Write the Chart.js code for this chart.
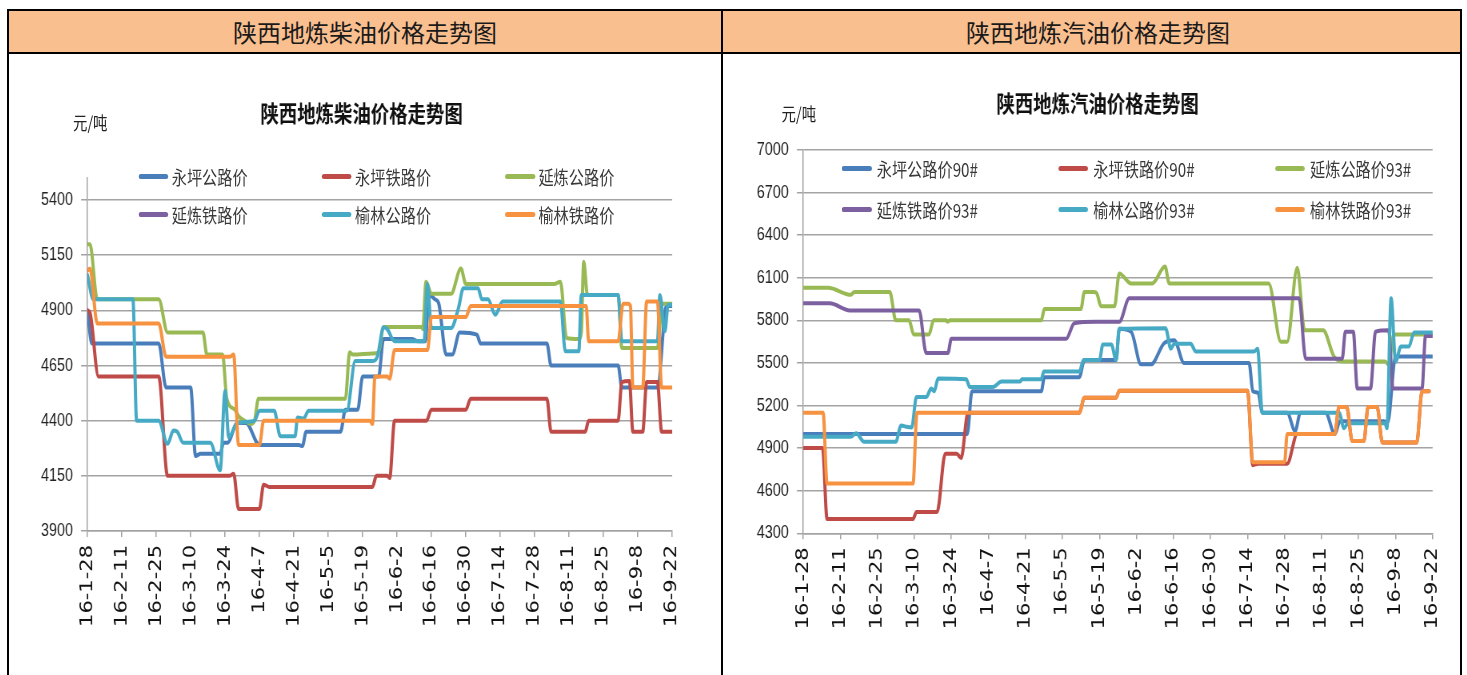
<!DOCTYPE html>
<html>
<head>
<meta charset="utf-8">
<script src="https://cdn.jsdelivr.net/npm/chart.js@4.4.1/dist/chart.umd.min.js"></script>
<style>
html,body{margin:0;padding:0;background:#fff;width:1467px;height:675px;overflow:hidden;position:relative;}
.hdr{position:absolute;top:11px;height:41px;background:#FABF8F;display:flex;align-items:center;justify-content:center;box-sizing:border-box;
  font-family:"Noto Sans CJK SC","Noto Sans",sans-serif;font-size:24px;color:#1a1a1a;}
.ln{position:absolute;background:#000;z-index:5;}
.squash{position:absolute;top:55px;height:620px;transform:scaleX(0.8);transform-origin:0 0;}
.squash canvas{position:absolute;left:0;top:0;}
.unit{position:absolute;font-family:"Noto Sans CJK SC",sans-serif;font-size:18px;color:#222;line-height:24px;white-space:nowrap;}
.lg{position:absolute;height:24px;display:flex;align-items:center;white-space:nowrap;
  font-family:"Noto Sans CJK SC",sans-serif;font-size:19px;color:#3a3a3a;}
.lg .sw{display:inline-block;height:5px;border-radius:3px;}
</style>
</head>
<body>
<div class="hdr" style="left:9px;width:712px;">陕西地炼柴油价格走势图</div>
<div class="hdr" style="left:723px;width:737px;padding-left:13px;">陕西地炼汽油价格走势图</div>

<div class="squash" id="leftBox" style="left:9px;width:890px;">
  <canvas id="dieselChart" width="890" height="620"></canvas>
  <div class="unit" style="left:80px;top:55px;">元/吨</div>
</div>
<div class="squash" id="rightBox" style="left:724px;width:919px;">
  <canvas id="gasolineChart" width="919" height="620"></canvas>
  <div class="unit" style="left:72px;top:46px;">元/吨</div>
</div>

<div class="ln" style="left:7px;top:9px;width:1455px;height:2px;"></div>
<div class="ln" style="left:7px;top:52px;width:1455px;height:2px;"></div>
<div class="ln" style="left:7px;top:9px;width:2px;height:680px;"></div>
<div class="ln" style="left:721px;top:9px;width:2px;height:680px;"></div>
<div class="ln" style="left:1460px;top:9px;width:2px;height:680px;"></div>

<script>
// ---------- data ----------
const dateLabels = ['16-1-28','16-2-11','16-2-25','16-3-10','16-3-24','16-4-7','16-4-21','16-5-5','16-5-19',
  '16-6-2','16-6-16','16-6-30','16-7-14','16-7-28','16-8-11','16-8-25','16-9-8','16-9-22'];
const tickStepDays = 14;
const dieselYTicks = [3900,4150,4400,4650,4900,5150,5400];
const gasolineYTicks = [4300,4600,4900,5200,5500,5800,6100,6400,6700,7000];
const dieselTitle = '陕西地炼柴油价格走势图';
const gasolineTitle = '陕西地炼汽油价格走势图';
const dieselNames = ['永坪公路价','永坪铁路价','延炼公路价','延炼铁路价','榆林公路价','榆林铁路价'];
const gasolineNames = ['永坪公路价90#','永坪铁路价90#','延炼公路价93#','延炼铁路价93#','榆林公路价93#','榆林铁路价93#'];

// diesel: [days after 16-1-28, price]
const dYongpingRoad = [[0,4900],[1.8,4750],[29,4750],[32,4550],[42,4550],[44,4240],[46,4250],[54,4250],[55.4,4300],[57,4300],
  [61,4390],[64.5,4390],[70,4290],[86,4290],[87.5,4285],[89,4350],[103,4350],[105,4450],[110,4450],[112,4600],[118.5,4600],
  [120.5,4770],[132,4770],[134.5,4760],[137.5,4760],[139,4970],[141.5,4950],[143,4930],[146,4700],[148.5,4700],[151.5,4800],
  [158.5,4790],[160,4750],[187,4750],[188.7,4650],[216,4650],[217.5,4550],[232,4550],[235.7,4920],[238,4920]];
const dYongpingRail = [[0,4900],[1,4890],[4.5,4600],[29,4600],[32.6,4150],[58,4150],[59.5,4160],[61.5,4000],[70,4000],
  [71.7,4110],[74,4100],[116,4100],[117.6,4150],[122,4150],[123,4140],[125,4400],[138,4400],[140,4450],[154,4450],[156,4500],
  [187,4500],[188.7,4350],[202.6,4350],[204,4400],[216,4400],[217.5,4575],[220.6,4580],[222,4350],[226,4350],[227.6,4575],
  [232,4575],[233.7,4350],[238,4350]];
const dYanlianRoad = [[0,5200],[1,5200],[4,4950],[29,4950],[32.6,4800],[47,4800],[48.6,4700],[55,4700],[56.7,4500],[60,4450],
  [61.5,4420],[64,4400],[66.5,4385],[68,4400],[69.6,4500],[105,4500],[106.7,4710],[108,4700],[116,4705],[118.5,4710],
  [120.5,4825],[136,4825],[136.5,4815],[137.8,5030],[140,4975],[148,4975],[152,5090],[154,5020],[190,5020],[192.5,5030],
  [195,4775],[200,4770],[201,4800],[202,5120],[203.5,4970],[216,4970],[217.5,4730],[232,4730],[234,4930],[238,4930]];
const dYanlianRail = [];
const dYulinRoad = [[0,5060],[2.4,4950],[18.5,4950],[20,4400],[29,4400],[32.6,4295],[35,4355],[36.5,4350],[39,4300],[50,4300],
  [54,4175],[56,4535],[57.5,4325],[61,4390],[68,4400],[70,4445],[76,4445],[78.5,4330],[84.5,4330],[85.5,4415],[88,4410],
  [90,4445],[105.6,4445],[109,4670],[116,4670],[118,4690],[120.5,4823],[122,4815],[125,4760],[137,4760],[138.4,5020],
  [140,4820],[148,4820],[151,4910],[153,5000],[159,5000],[160.5,4950],[163,4950],[166,4880],[169,4940],[192.5,4940],
  [194.5,4715],[200,4715],[201,4970],[216,4970],[217.5,4760],[232,4760],[233,4970],[235,4805],[236.4,4925],[238,4925]];
const dYulinRail = [[0,5080],[1,5090],[4,4840],[29,4840],[32,4690],[58,4690],[59.5,4700],[61.5,4290],[70,4290],[71.7,4400],
  [115,4400],[116,4385],[117,4600],[122,4600],[123,4590],[125,4720],[138.4,4720],[140,4870],[154,4870],[156,4920],[203,4920],
  [204,4760],[216,4760],[218,4930],[220,4930],[221,4920],[222,4550],[226,4550],[227.6,4940],[232,4940],[233.7,4550],[238,4550]];

// gasoline: [days after 16-1-28, price]
const gYongpingRoad = [[0,5000],[62,5000],[63.8,5300],[90,5300],[91.2,5400],[104.4,5400],[106.3,5520],[118.3,5520],
  [119.5,5740],[124,5720],[127.7,5490],[131.5,5490],[136.5,5640],[140.3,5660],[144,5500],[168.6,5500],[170,5300],[172,5290],
  [173.6,5150],[183,5150],[186,5020],[188,5150],[197.5,5150],[201,5000],[203,5090],[219.5,5090],[221,5080],[224,5545],[238,5545]];
const gYongpingRail = [[0,4900],[7.3,4900],[9,4400],[41.5,4400],[42.8,4450],[50.6,4450],[53.7,4860],[58,4860],[59.7,4830],
  [62.3,5150],[104.4,5150],[106.3,5255],[118.3,5255],[119.5,5305],[168,5305],[170,4780],[172,4790],[183,4790],[186.8,5000],
  [201,5000],[202.6,5190],[205.5,5190],[207.6,4950],[212,4950],[213.6,5190],[217,5190],[219,4940],[232,4940],[234,5300],[236.7,5300]];
const gYanlianRoad = [[0,6030],[9.4,6030],[18,5980],[19.3,6000],[32.7,6000],[35,5800],[40,5800],[41.8,5700],[47.5,5700],
  [49.3,5800],[54,5800],[54.5,5790],[55.5,5800],[90,5800],[91.2,5880],[105,5880],[106.3,6000],[110,6000],[111,5990],
  [112.6,5900],[117.7,5900],[119.5,6130],[124,6060],[132,6060],[136.8,6180],[138.4,6060],[176,6060],[180.6,5650],[183,5650],
  [186.8,6170],[189.6,5730],[196.6,5730],[200.7,5545],[204.5,5510],[220,5510],[221.4,5486],[223.3,5700],[238,5700]];
const gYanlianRail = [[0,5920],[10,5920],[17.6,5870],[43.8,5870],[46.5,5570],[54.7,5570],[56,5670],[99.4,5670],[102.5,5780],
  [110.7,5790],[119.5,5790],[123.3,5955],[187.5,5955],[190,5530],[203.8,5530],[205,5720],[208,5720],[209.5,5320],[214.5,5320],
  [216.4,5720],[221.4,5730],[223,5320],[234,5320],[235.3,5690],[238,5690]];
const gYulinRoad = [[0,4980],[18,4980],[20,5005],[23,4945],[35,4945],[37,5060],[39,5050],[41,5045],[42.8,5260],[46.5,5260],
  [48.4,5320],[49.5,5300],[51,5390],[61.6,5385],[63,5330],[71.7,5330],[75,5370],[82,5370],[82.7,5385],[90,5385],[91,5440],
  [104.4,5440],[106,5520],[112,5520],[113.3,5630],[116.5,5630],[118.3,5520],[119.5,5740],[137,5745],[139,5600],[140.3,5635],
  [146.5,5635],[148.5,5580],[170.5,5580],[171.8,5600],[173.6,5150],[202.6,5150],[204.5,5040],[206,5075],[220,5075],
  [220.7,5040],[222.3,5955],[224,5510],[226,5615],[229,5615],[231,5715],[238,5715]];
const gYulinRail = [[0,5150],[7.5,5150],[9,4650],[41.5,4650],[43,5150],[104.4,5150],[106.3,5255],[118.3,5255],[119.5,5305],
  [168,5305],[170,4800],[182,4800],[183,5000],[201,5000],[202.6,5190],[205.5,5190],[207.6,4950],[212,4950],[213.6,5190],
  [217,5190],[219,4940],[232,4940],[234,5300],[236.7,5300]];

// ---------- styles ----------
const seriesColors = ['#4A7EBB','#BE4B48','#98B954','#7D60A0','#46AAC5','#F69240'];
const gridColor = '#a3a3a3';

// moves the library-drawn title sideways after layout
const titleShift = {
  id: 'titleShift',
  afterLayout(chart, args, opts) {
    const t = chart.titleBlock;
    if (t && opts && opts.dx) { t.left += opts.dx; t.right += opts.dx; }
  }
};

function buildChart(canvasId, cfg) {
  const datasets = cfg.series.map((s, i) => ({
    label: cfg.names[i],
    data: s.map(p => ({x: p[0], y: p[1]})),
    borderColor: seriesColors[i],
    backgroundColor: seriesColors[i],
    borderWidth: 4,
    pointRadius: 0,
    fill: false,
    cubicInterpolationMode: 'monotone',
    borderCapStyle: 'round',
    borderJoinStyle: 'round',
    order: cfg.series.length - i
  }));
  return new Chart(document.getElementById(canvasId), {
    type: 'line',
    data: {datasets},
    plugins: [titleShift],
    options: {
      responsive: false,
      animation: false,
      layout: {padding: {left: cfg.pl, right: cfg.pr, top: 0, bottom: 0}},
      plugins: {
        legend: {display: false},
        tooltip: {enabled: false},
        titleShift: {dx: cfg.titleDx},
        title: {
          display: true, text: cfg.title, color: '#111',
          font: {family: '"Noto Sans CJK SC", sans-serif', size: 23, weight: 'bold', lineHeight: 1.2},
          padding: {top: cfg.tTop, bottom: cfg.tBottom}
        }
      },
      scales: {
        x: {
          type: 'linear', min: 0, max: (dateLabels.length - 1) * tickStepDays,
          afterBuildTicks: s => { s.ticks = dateLabels.map((_, i) => ({value: i * tickStepDays})); },
          afterFit: s => { s.height = cfg.xH; },
          grid: {drawOnChartArea: false, drawTicks: true, tickLength: 6, color: gridColor, lineWidth: 1.5},
          border: {color: gridColor, width: 1.5},
          ticks: {
            autoSkip: false, maxRotation: 90, minRotation: 90, padding: 8, color: '#111',
            font: {family: '"DejaVu Sans", sans-serif', size: 21},
            callback: v => dateLabels[Math.round(v / tickStepDays)]
          }
        },
        y: {
          min: cfg.yMin, max: cfg.yMax,
          afterBuildTicks: s => { s.ticks = cfg.yTicks.map(v => ({value: v})); },
          afterFit: s => { s.width = cfg.yW; },
          grid: {color: gridColor, lineWidth: 1.5, drawTicks: true, tickLength: 8},
          border: {color: gridColor, width: 1.5},
          ticks: {
            padding: 10, color: '#222',
            font: {family: '"Liberation Sans", Arial, sans-serif', size: 18},
            callback: v => String(v)
          }
        }
      }
    }
  });
}

function buildLegend(boxId, names, cols, rows, swLen, textOff) {
  const box = document.getElementById(boxId);
  names.forEach((n, i) => {
    const d = document.createElement('div');
    d.className = 'lg';
    d.style.left = cols[i % 3] + 'px';
    d.style.top = (rows[Math.floor(i / 3)] - 12) + 'px';
    const sw = document.createElement('span');
    sw.className = 'sw';
    sw.style.width = swLen + 'px';
    sw.style.background = seriesColors[i];
    sw.style.marginRight = (textOff - swLen) + 'px';
    const t = document.createElement('span');
    t.textContent = n;
    d.appendChild(sw); d.appendChild(t);
    box.appendChild(d);
  });
}

buildChart('dieselChart', {
  title: dieselTitle, names: dieselNames,
  series: [dYongpingRoad, dYongpingRail, dYanlianRoad, dYanlianRail, dYulinRoad, dYulinRail],
  yTicks: dieselYTicks, yMin: 3900, yMax: 5500,
  pl: 30, pr: 61, yW: 68.1, xH: 144, tTop: 44.5, tBottom: 50.9, titleDx: 11.3
});
buildChart('gasolineChart', {
  title: gasolineTitle, names: gasolineNames,
  series: [gYongpingRoad, gYongpingRail, gYanlianRoad, gYanlianRail, gYulinRoad, gYulinRail],
  yTicks: gasolineYTicks, yMin: 4300, yMax: 7000,
  pl: 30, pr: 29.6, yW: 69.1, xH: 141.7, tTop: 34.7, tBottom: 32.7, titleDx: 7.2
});
buildLegend('leftBox', dieselNames, [161.6, 390.9, 620], [121, 159], 37.5, 41.75);
buildLegend('rightBox', gasolineNames, [147.1, 417.9, 688.75], [113.5, 154.5], 37.5, 43.75);
</script>
</body>
</html>
